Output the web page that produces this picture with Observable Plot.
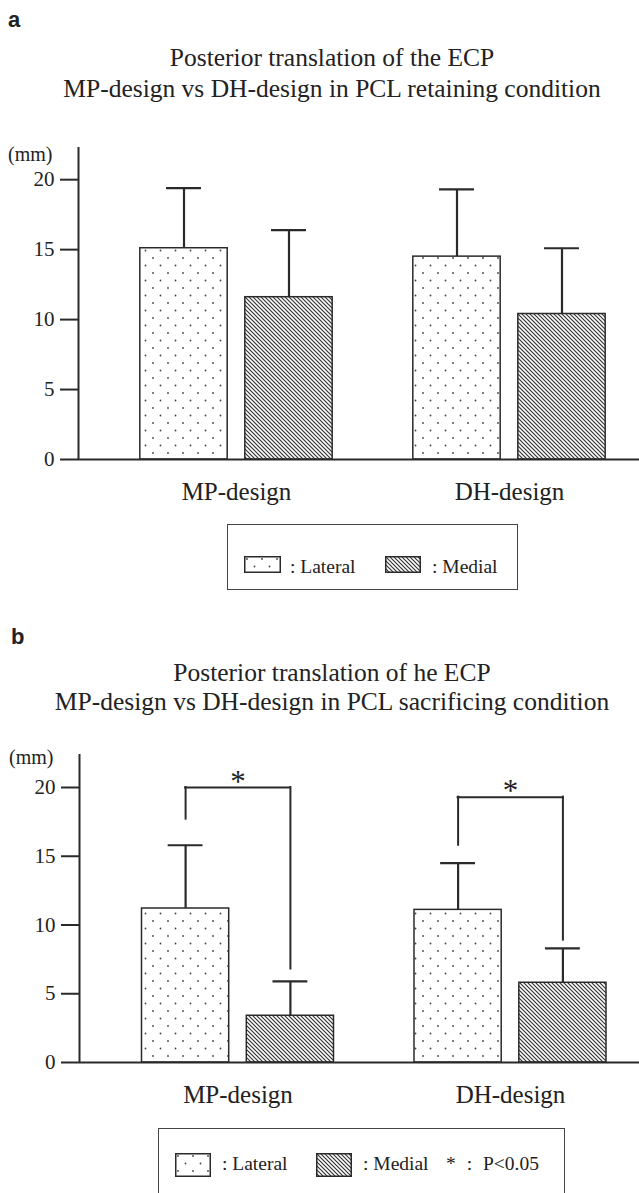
<!DOCTYPE html>
<html><head><meta charset="utf-8">
<script src="https://cdn.jsdelivr.net/npm/d3@7"></script>
<script src="https://cdn.jsdelivr.net/npm/@observablehq/plot@0.6"></script>
<style>
html,body{margin:0;padding:0;background:#fff;}
#page{position:relative;width:639px;height:1193px;overflow:hidden;background:#fff;color:#222;font-family:"Liberation Serif","Times New Roman",serif;}
.panel-label{position:absolute;font-family:"Liberation Sans",Arial,sans-serif;font-weight:bold;font-size:22px;line-height:22px;}
.title{position:absolute;left:0;width:664px;text-align:center;font-size:25.5px;white-space:nowrap;}
.plot{position:absolute;left:0;}
.legend{position:absolute;border:1.5px solid #444;box-sizing:border-box;}
.leg-text{position:absolute;font-size:19.5px;line-height:19.5px;white-space:nowrap;}
.swatch{position:absolute;overflow:visible;}
</style></head>
<body>
<svg width="0" height="0" style="position:absolute">
<defs>
<pattern id="dots" patternUnits="userSpaceOnUse" width="15" height="15">
 <rect width="15" height="15" fill="#fff"/>
 <circle cx="3" cy="3" r="0.9" fill="#444"/>
 <circle cx="10.5" cy="10.5" r="0.9" fill="#444"/>
</pattern>
<pattern id="hatch" patternUnits="userSpaceOnUse" width="4" height="4">
 <rect width="4" height="4" fill="#fff"/>
 <path d="M-1,-1L5,5M3,-1L5,1M-1,3L1,5" stroke="#333" stroke-width="1.2"/>
</pattern>
</defs></svg>
<div id="page"></div>
<script>
// ---------- data ----------
const groups = ["MP-design", "DH-design"];
const series = ["Lateral", "Medial"];
const yTicks = [0, 5, 10, 15, 20];

// Panel a: PCL retaining condition
const retainLateralMean = [15.1, 14.5];
const retainLateralSD   = [4.3, 4.8];
const retainMedialMean  = [11.6, 10.4];
const retainMedialSD    = [4.8, 4.7];

// Panel b: PCL sacrificing condition
const sacrLateralMean = [11.2, 11.1];
const sacrLateralSD   = [4.6, 3.4];
const sacrMedialMean  = [3.4, 5.8];
const sacrMedialSD    = [2.5, 2.5];

// significance brackets (panel b)
const sigBracketY  = [20.0, 19.3];
const sigLeftEnd   = [17.7, 15.8];
const sigRightEnd  = [6.8, 8.9];
const sigLabel     = "*";

// ---------- helpers ----------
function rowsFrom(latM, latS, medM, medS) {
  return groups.flatMap((g, gi) => [
    {group: g, gi, series: series[0], si: 0, mean: latM[gi], sd: latS[gi]},
    {group: g, gi, series: series[1], si: 1, mean: medM[gi], sd: medS[gi]}
  ]);
}

const OFF = 0.1923, HALF = 0.16, CAP = 0.064;
const cx = d => d.gi + (d.si === 0 ? -OFF : OFF);
const INK = "#2a2a2a";

function panel(cfg) {
  const {rows, brackets, marginTop, ymax, center, step, marginLeft} = cfg;
  const width = 639, height = 400, marginBottom = 61;
  const xmin = (marginLeft - center) / step, xmax = (width - center) / step;
  const marks = [
    Plot.rect(rows.filter(d => d.si === 0), {x1: d => cx(d) - HALF, x2: d => cx(d) + HALF, y1: 0, y2: "mean", fill: "url(#dots)", stroke: INK, strokeWidth: 1.5}),
    Plot.rect(rows.filter(d => d.si === 1), {x1: d => cx(d) - HALF, x2: d => cx(d) + HALF, y1: 0, y2: "mean", fill: "url(#hatch)", stroke: INK, strokeWidth: 1.5}),
    Plot.ruleX(rows, {x: cx, y1: "mean", y2: d => d.mean + d.sd, stroke: INK, strokeWidth: 2.2}),
    Plot.ruleY(rows, {x1: d => cx(d) - CAP, x2: d => cx(d) + CAP, y: d => d.mean + d.sd, stroke: INK, strokeWidth: 2.2}),
    Plot.ruleY([0], {stroke: INK, strokeWidth: 2}),
    Plot.ruleX([xmin], {y1: 0, y2: ymax, stroke: INK, strokeWidth: 2}),
    Plot.axisY(yTicks, {tickSize: 18, tickPadding: 6, fontSize: 21, stroke: INK, strokeWidth: 2, label: null}),
    Plot.axisX([0, 1], {tickSize: 0, tickPadding: 23, fontSize: 25, tickFormat: i => groups[i], label: null}),
    Plot.text(["(mm)"], {text: d => d, frameAnchor: "top-left", textAnchor: "end", dx: -26, dy: 26 - marginTop, fontSize: 20, fill: "#222"})
  ];
  if (brackets) {
    marks.push(
      Plot.ruleY(brackets, {x1: d => d.gi - OFF, x2: d => d.gi + OFF, y: "y", stroke: INK, strokeWidth: 2, strokeLinecap: "square"}),
      Plot.ruleX(brackets, {x: d => d.gi - OFF, y1: "yl", y2: "y", stroke: INK, strokeWidth: 2, strokeLinecap: "square"}),
      Plot.ruleX(brackets, {x: d => d.gi + OFF, y1: "yr", y2: "y", stroke: INK, strokeWidth: 2, strokeLinecap: "square"}),
      Plot.text(brackets, {x: "gi", y: "y", text: d => d.label, lineAnchor: "bottom", dy: 4, fontSize: 31, fill: "#222"})
    );
  }
  return Plot.plot({
    width, height, marginTop, marginBottom, marginLeft, marginRight: 0,
    x: {domain: [xmin, xmax], label: null},
    y: {domain: [0, ymax], label: null},
    style: {fontFamily: "'Liberation Serif', 'Times New Roman', serif", color: "#222", background: "transparent", overflow: "visible"},
    marks
  });
}

const page = document.getElementById("page");
function addDiv(cls, css, html) {
  const d = document.createElement("div");
  d.className = cls;
  Object.assign(d.style, css);
  d.innerHTML = html;
  page.appendChild(d);
  return d;
}
function addSwatch(fill, left, top, w, h) {
  const ns = "http://www.w3.org/2000/svg";
  const s = document.createElementNS(ns, "svg");
  s.setAttribute("class", "swatch");
  s.setAttribute("width", w); s.setAttribute("height", h);
  s.style.left = left + "px"; s.style.top = top + "px";
  const r = document.createElementNS(ns, "rect");
  r.setAttribute("x", 0.75); r.setAttribute("y", 0.75);
  r.setAttribute("width", w - 1.5); r.setAttribute("height", h - 1.5);
  r.setAttribute("fill", fill); r.setAttribute("stroke", INK); r.setAttribute("stroke-width", 1.5);
  s.appendChild(r);
  page.appendChild(s);
}

// ---------- panel a ----------
addDiv("panel-label", {left: "8px", top: "9px"}, "a");
addDiv("title", {top: "43px", lineHeight: "30.5px"}, "Posterior translation of the ECP<br>MP-design vs DH-design in PCL retaining condition");
const svgA = panel({rows: rowsFrom(retainLateralMean, retainLateralSD, retainMedialMean, retainMedialSD), marginTop: 27, ymax: 22.3, center: 236, step: 273, marginLeft: 78});
svgA.classList.add("plot"); svgA.style.top = "120px"; svgA.style.position = "absolute";
page.appendChild(svgA);
addDiv("legend", {left: "227px", top: "524px", width: "291px", height: "66px"}, "");
addSwatch("url(#dots)", 244, 556, 37, 17);
addDiv("leg-text", {left: "290px", top: "556.5px"}, ": " + series[0]);
addSwatch("url(#hatch)", 385, 556, 36, 17);
addDiv("leg-text", {left: "432px", top: "556.5px"}, ": " + series[1]);

// ---------- panel b ----------
addDiv("panel-label", {left: "11px", top: "626px"}, "b");
addDiv("title", {top: "657.5px", lineHeight: "29.5px"}, "Posterior translation of he ECP<br>MP-design vs DH-design in PCL sacrificing condition");
const brackets = groups.map((g, gi) => ({group: g, gi, y: sigBracketY[gi], yl: sigLeftEnd[gi], yr: sigRightEnd[gi], label: sigLabel}));
const svgB = panel({rows: rowsFrom(sacrLateralMean, sacrLateralSD, sacrMedialMean, sacrMedialSD), brackets, marginTop: 31, ymax: 22.4, center: 237.5, step: 272.5, marginLeft: 79});
svgB.classList.add("plot"); svgB.style.top = "723px"; svgB.style.position = "absolute";
page.appendChild(svgB);
addDiv("legend", {left: "158px", top: "1128px", width: "407px", height: "80px"}, "");
addSwatch("url(#dots)", 175, 1153, 36, 24);
addDiv("leg-text", {left: "222px", top: "1153.5px"}, ": " + series[0]);
addSwatch("url(#hatch)", 316, 1153, 36, 24);
addDiv("leg-text", {left: "363px", top: "1153.5px"}, ": " + series[1]);
addDiv("leg-text", {left: "446px", top: "1153.5px", wordSpacing: "6px"}, sigLabel + " : P&lt;0.05");
</script>
</body></html>
